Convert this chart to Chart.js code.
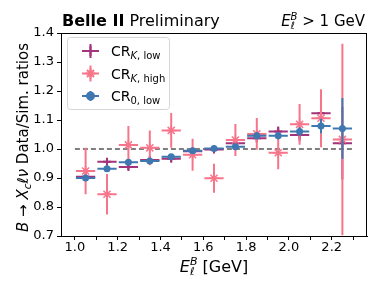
<!DOCTYPE html>
<html>
<head>
<meta charset="utf-8">
<script src="https://cdn.jsdelivr.net/npm/chart.js@4"></script>
<style>
  body { margin: 0; background: #fff; }
  #wrap { width: 381px; height: 293px; }
</style>
</head>
<body>
<div id="wrap"><canvas id="myChart" width="381" height="293"></canvas></div>
<script>
'use strict';

// bin centres in E_l^B [GeV]
const bins = [1.05, 1.15, 1.25, 1.35, 1.45, 1.55, 1.65, 1.75, 1.85, 1.95, 2.05, 2.15, 2.25];
const binHalfWidth = 0.045;

// CR_K,low
const kLow = [0.904, 0.956, 0.938, 0.962, 0.966, 0.992, 0.998, 1.020, 1.037, 1.060, 1.048, 1.123, 1.020];
const kLowErr = [0.010, 0.010, 0.010, 0.010, 0.010, 0.010, 0.008, 0.012, 0.015, 0.018, 0.020, 0.035, 0.125];

// CR_K,high
const kHigh = [0.924, 0.844, 1.014, 1.004, 1.064, 0.980, 0.899, 1.031, 1.052, 0.987, 1.085, 1.106, 1.033];
const kHighErr = [0.080, 0.070, 0.065, 0.060, 0.060, 0.055, 0.050, 0.055, 0.055, 0.057, 0.070, 0.100, 0.330];

// CR_0,low
const zeroLow = [0.900, 0.932, 0.954, 0.959, 0.973, 0.994, 1.002, 1.008, 1.046, 1.046, 1.060, 1.079, 1.071];
const zeroLowErr = [0.010, 0.008, 0.008, 0.008, 0.008, 0.008, 0.008, 0.010, 0.012, 0.012, 0.015, 0.025, 0.105];

const xTicks = [1.0, 1.1, 1.2, 1.3, 1.4, 1.5, 1.6, 1.7, 1.8, 1.9, 2.0, 2.1, 2.2, 2.3];
const refLine = [1.0, 2.3];

const purple = '#a3337a';
const pink = '#f7758b';
const blue = '#3f78b1';
const font = 'DejaVu Sans';

function toPoints(ys) {
  let pts = [];
  for (let i = 0; i < bins.length; i++) {
    pts.push({ x: bins[i], y: ys[i] });
  }
  return pts;
}

// draws a list of text pieces, some sub/superscript
function drawRich(ctx, parts, x, y, align) {
  let w = 0;
  for (let p of parts) {
    if (p.stack) {
      let m = 0;
      for (let s of p.stack) { ctx.font = s.f; m = Math.max(m, ctx.measureText(s.t).width); }
      w += m;
    } else {
      ctx.font = p.f;
      w += ctx.measureText(p.t).width;
    }
  }
  let cx = x;
  if (align === 'center') cx = x - w / 2;
  if (align === 'right') cx = x - w;
  ctx.textAlign = 'left';
  ctx.textBaseline = 'alphabetic';
  for (let p of parts) {
    if (p.stack) {
      let m = 0;
      for (let s of p.stack) {
        ctx.font = s.f;
        ctx.fillText(s.t, cx + (s.dx || 0), y + (s.dy || 0));
        m = Math.max(m, ctx.measureText(s.t).width);
      }
      cx += m;
    } else {
      ctx.font = p.f;
      ctx.fillText(p.t, cx, y + (p.dy || 0));
      cx += ctx.measureText(p.t).width;
    }
  }
}

const errorBars = {
  id: 'errorBars',
  beforeDatasetDraw(chart, args) {
    const ds = chart.data.datasets[args.index];
    if (!ds.err) return;
    const ctx = chart.ctx;
    const xs = chart.scales.x, ys = chart.scales.y;
    const a = chart.chartArea;
    ctx.save();
    ctx.beginPath();
    ctx.rect(a.left, a.top, a.right - a.left, a.bottom - a.top);
    ctx.clip();
    ctx.strokeStyle = ds.borderColor;
    ctx.lineWidth = 2;
    for (let i = 0; i < ds.data.length; i++) {
      const p = ds.data[i];
      const x0 = xs.getPixelForValue(p.x - binHalfWidth);
      const x1 = xs.getPixelForValue(p.x + binHalfWidth);
      const xc = xs.getPixelForValue(p.x);
      const yc = ys.getPixelForValue(p.y);
      const y0 = ys.getPixelForValue(p.y - ds.err[i]);
      const y1 = ys.getPixelForValue(p.y + ds.err[i]);
      ctx.beginPath();
      ctx.moveTo(x0, yc); ctx.lineTo(x1, yc);
      ctx.moveTo(xc, y0); ctx.lineTo(xc, y1);
      ctx.stroke();
    }
    ctx.restore();
  }
};

const decorations = {
  id: 'decorations',
  afterDraw(chart) {
    const ctx = chart.ctx;
    const a = chart.chartArea;
    ctx.save();
    ctx.fillStyle = '#000';
    ctx.strokeStyle = '#000';
    ctx.lineWidth = 1;
    ctx.strokeRect(a.left + 0.5, a.top + 0.5, a.right - a.left - 1, a.bottom - a.top);

    // header
    drawRich(ctx, [
      { t: 'Belle II', f: 'bold 16px ' + font },
      { t: ' Preliminary', f: '16px ' + font }
    ], a.left + 1, 26, 'left');
    drawRich(ctx, [
      { t: 'E', f: 'italic 15px ' + font },
      { stack: [
        { t: 'B', f: 'italic 10px ' + font, dy: -6 },
        { t: 'ℓ', f: 'italic 10px ' + font, dy: 3 }
      ] },
      { t: ' > 1 GeV', f: '15px ' + font }
    ], a.right - 2, 26, 'right');

    // x title
    drawRich(ctx, [
      { t: 'E', f: 'italic 16px ' + font },
      { stack: [
        { t: 'B', f: 'italic 11px ' + font, dy: -7 },
        { t: 'ℓ', f: 'italic 11px ' + font, dy: 3 }
      ] },
      { t: ' [GeV]', f: '16px ' + font }
    ], (a.left + a.right) / 2, 272, 'center');

    // y title
    ctx.save();
    ctx.translate(28, (a.top + a.bottom) / 2 + 3);
    ctx.rotate(-Math.PI / 2);
    drawRich(ctx, [
      { t: 'B', f: 'italic 15px ' + font },
      { t: ' → ', f: '15px ' + font },
      { t: 'X', f: 'italic 15px ' + font },
      { t: 'c', f: 'italic 10.5px ' + font, dy: 3 },
      { t: 'ℓν', f: 'italic 15px ' + font },
      { t: ' Data/Sim. ratios', f: '15px ' + font }
    ], 0, 0, 'center');
    ctx.restore();

    // legend
    const lx = 67, ly = 37, lw = 102, lh = 72;
    ctx.beginPath();
    ctx.roundRect(lx + 0.5, ly + 0.5, lw, lh, 3);
    ctx.fillStyle = 'rgba(255,255,255,0.8)';
    ctx.fill();
    ctx.strokeStyle = '#d6d6d6';
    ctx.stroke();

    const rows = [
      { c: purple, y: 51, v: 7, style: 'cross', r: 5, sub: [['K', 'italic'], [', low', '']] },
      { c: pink, y: 73.5, v: 8, style: 'star', r: 5, sub: [['K', 'italic'], [', high', '']] },
      { c: blue, y: 96, v: 5, style: 'circle', r: 3.5, sub: [['0, low', '']] }
    ];
    for (let r of rows) {
      ctx.strokeStyle = r.c;
      ctx.fillStyle = r.c;
      ctx.lineWidth = 2;
      ctx.beginPath();
      ctx.moveTo(82, r.y); ctx.lineTo(99, r.y);
      ctx.moveTo(90.5, r.y - r.v); ctx.lineTo(90.5, r.y + r.v);
      ctx.stroke();
      Chart.helpers.drawPoint(ctx, {
        pointStyle: r.style, radius: r.r, borderWidth: 1.5, rotation: 0
      }, 90.5, r.y);
      if (r.style === 'circle') ctx.fill();
      ctx.fillStyle = '#000';
      let parts = [{ t: 'CR', f: '14px ' + font }];
      for (let s of r.sub) {
        parts.push({ t: s[0], f: (s[1] ? s[1] + ' ' : '') + '10px ' + font, dy: 3 });
      }
      drawRich(ctx, parts, 111, r.y + 5, 'left');
    }
    ctx.restore();
  }
};

const ctx = document.getElementById('myChart');

new Chart(ctx, {
  type: 'scatter',
  data: {
    datasets: [{
      label: 'CR_0,low',
      data: toPoints(zeroLow),
      err: zeroLowErr,
      borderColor: blue,
      backgroundColor: blue,
      pointStyle: 'circle',
      pointRadius: 3.5,
      pointBorderWidth: 0,
      order: 0
    }, {
      label: 'CR_K,high',
      data: toPoints(kHigh),
      err: kHighErr,
      borderColor: pink,
      backgroundColor: pink,
      pointStyle: 'star',
      pointRadius: 5,
      pointBorderWidth: 1.5,
      order: 1
    }, {
      label: 'CR_K,low',
      data: toPoints(kLow),
      err: kLowErr,
      borderColor: purple,
      backgroundColor: purple,
      pointStyle: 'cross',
      pointRadius: 4,
      pointBorderWidth: 2,
      order: 2
    }, {
      label: 'ref',
      type: 'line',
      data: refLine.map(v => ({ x: v, y: 1.0 })),
      borderColor: '#555',
      borderWidth: 1.5,
      borderDash: [5, 3],
      pointRadius: 0,
      order: 3
    }]
  },
  options: {
    responsive: false,
    animation: false,
    events: [],
    layout: { padding: { top: 33, right: 14, left: 0, bottom: 0 } },
    plugins: {
      legend: { display: false },
      tooltip: { enabled: false }
    },
    scales: {
      x: {
        type: 'linear',
        min: 0.935,
        max: 2.365,
        afterBuildTicks: (scale) => { scale.ticks = xTicks.map(v => ({ value: v })); },
        afterFit: (scale) => { scale.height = 57; },
        ticks: {
          color: '#000',
          font: { family: font, size: 13 },
          padding: 0,
          maxRotation: 0,
          autoSkip: false,
          callback: (v) => (Math.round(v * 10) % 2 === 0 ? v.toFixed(1) : '')
        },
        grid: { drawOnChartArea: false, tickLength: 4, color: '#000' },
        border: { color: '#000', width: 1 }
      },
      y: {
        min: 0.7,
        max: 1.4,
        afterFit: (scale) => { scale.width = 61; },
        ticks: {
          stepSize: 0.1,
          color: '#000',
          font: { family: font, size: 13 },
          padding: 3,
          callback: (v) => v.toFixed(1)
        },
        grid: { drawOnChartArea: false, tickLength: 4, color: '#000' },
        border: { color: '#000', width: 1 }
      }
    }
  },
  plugins: [errorBars, decorations]
});
</script>
</body>
</html>
